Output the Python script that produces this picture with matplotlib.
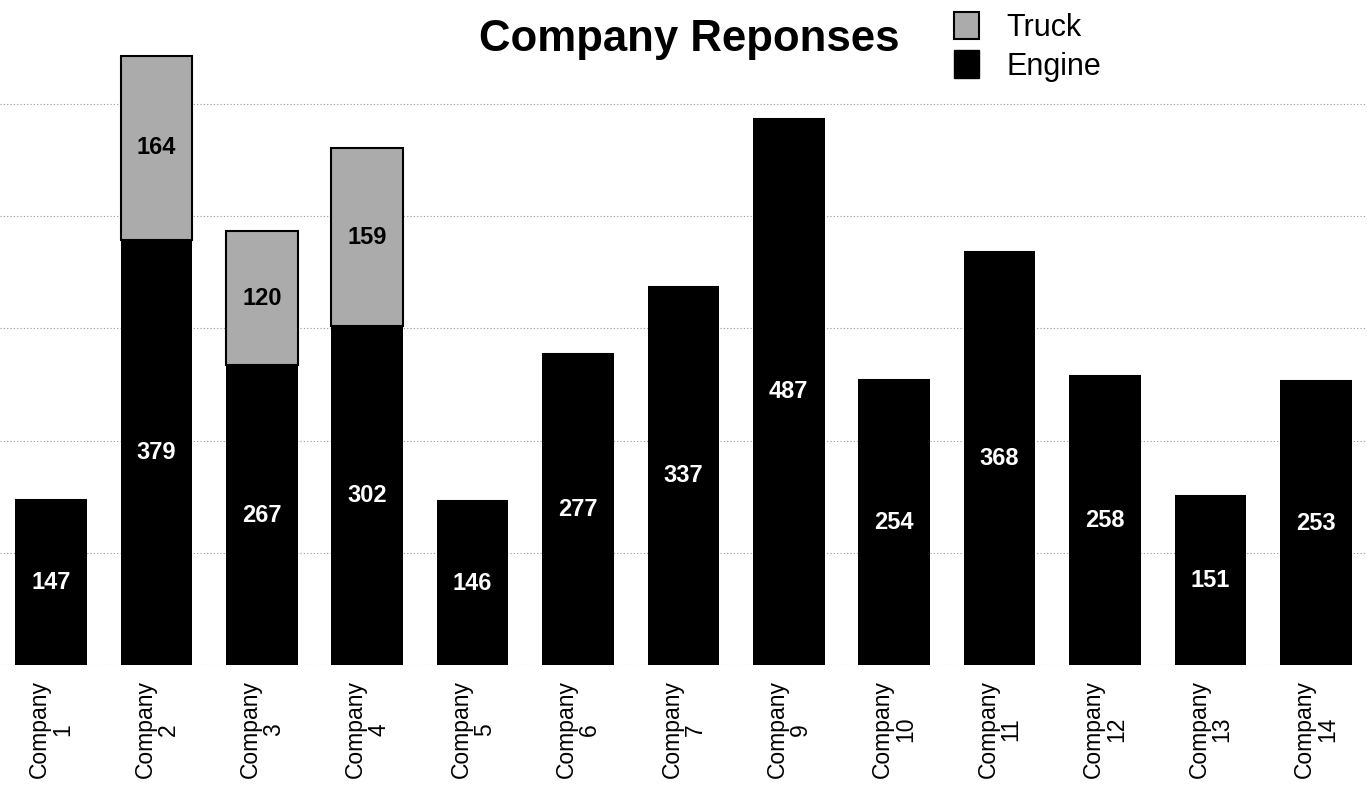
import matplotlib
matplotlib.use("Agg")
import matplotlib.pyplot as plt
from matplotlib.patches import Patch
import numpy as np

plt.rcParams['font.family'] = ['Liberation Sans', 'DejaVu Sans']

companies = ["Company\n1", "Company\n2", "Company\n3", "Company\n4", "Company\n5",
             "Company\n6", "Company\n7", "Company\n9", "Company\n10", "Company\n11",
             "Company\n12", "Company\n13", "Company\n14"]
engine = [147, 379, 267, 302, 146, 277, 337, 487, 254, 368, 258, 151, 253]
truck = [0, 164, 120, 159, 0, 0, 0, 0, 0, 0, 0, 0, 0]

fig = plt.figure(figsize=(13.67, 7.92), dpi=100)
ax = fig.add_axes([0, 1 - 665 / 792, 1, 617 / 792])

x = np.arange(len(companies))
w = 0.68
ax.bar(x, engine, w, color="black", zorder=2)
ax.bar(x, truck, w, bottom=engine, color="#ababab", edgecolor="black", linewidth=1.5, zorder=2)

# value labels in the middle of each segment
for i in range(len(x)):
    ax.text(x[i], engine[i] / 2, str(engine[i]), ha="center", va="center",
            color="white", fontsize=17, fontweight="bold", zorder=3)
    if truck[i] > 0:
        ax.text(x[i], engine[i] + truck[i] / 2, str(truck[i]), ha="center", va="center",
                color="black", fontsize=17, fontweight="bold", zorder=3)

ax.set_xlim(-51 / 105.4, (1367 - 51) / 105.4)
ax.set_ylim(0, 550)
ax.set_yticks([0, 100, 200, 300, 400, 500])
ax.yaxis.grid(True, linestyle=(0, (1, 2)), color="#999999", linewidth=0.8, zorder=0)
ax.tick_params(axis="y", left=False, labelleft=False)
ax.set_xticks(x)
ax.set_xticklabels(companies, rotation=90, fontsize=16.5, multialignment="center",
                   linespacing=1.0)
ax.tick_params(axis="x", length=0, pad=11)
for s in ax.spines.values():
    s.set_visible(False)

fig.text(0.504, 0.950, "Company Reponses", ha="center", va="center",
         fontsize=31.5, fontweight="bold")

handles = [Patch(facecolor="#ababab", edgecolor="black", linewidth=1.5, label="Truck"),
           Patch(facecolor="black", edgecolor="black", label="Engine")]
fig.legend(handles=handles, loc="upper left", bbox_to_anchor=(0.678, 1.02),
           frameon=False, fontsize=22, handlelength=0.8, handleheight=1.0,
           handletextpad=0.9, labelspacing=0.25)

fig.savefig("out.png", dpi=100)
